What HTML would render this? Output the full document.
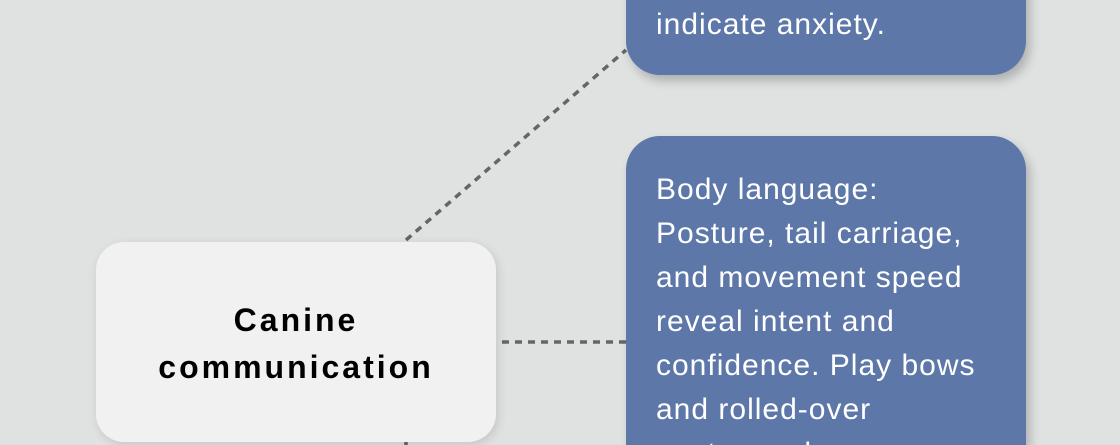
<!DOCTYPE html>
<html style="overflow:hidden;height:445px"><head><style>
body{margin:0;width:1120px;height:445px;overflow:hidden;background:#dfe2e1;font-family:"Liberation Sans",sans-serif;position:relative}
.b{position:absolute;background:#5c77a8;border-radius:34px;box-shadow:4px 6px 10px rgba(0,0,0,0.22);color:#fff;font-size:30px;letter-spacing:1px;line-height:44px;box-sizing:border-box;padding-left:30px;white-space:nowrap}
.c{position:absolute;left:96px;top:242px;width:400px;height:200px;background:#f0f1f0;border-radius:28px;box-shadow:2px 3px 10px rgba(0,0,0,0.12);font-weight:bold;font-size:32px;letter-spacing:3px;line-height:47px;text-align:center}
</style></head><body>
<svg width="1120" height="445" style="position:absolute;left:0;top:0">
<g stroke="#666" stroke-width="3.5" stroke-dasharray="7,6" fill="none">
<line x1="406" y1="240" x2="626" y2="50"/>
<line x1="502" y1="342" x2="626" y2="342"/>
<line x1="406" y1="442" x2="406" y2="445"/>
</g></svg>
<div class="b" style="left:626px;top:-200px;width:400px;height:275px"><div style="position:absolute;top:203px;left:30px">indicate anxiety.</div></div>
<div class="b" style="left:626px;top:136px;width:400px;height:309px;border-bottom-left-radius:0;border-bottom-right-radius:0;padding-top:32px;overflow:hidden">Body language:<br>Posture, tail carriage,<br>and movement speed<br>reveal intent and<br>confidence. Play bows<br>and rolled-over<br>postures show</div>
<div class="c"><div style="position:absolute;left:0;right:0;top:55px">Canine<br>communication</div></div>
</body></html>
